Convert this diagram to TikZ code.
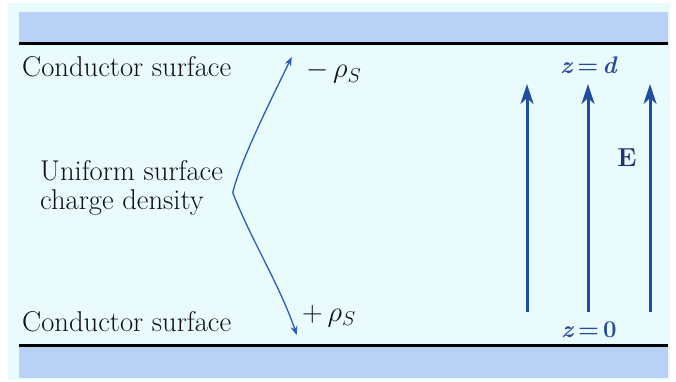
\documentclass[tikz,border=0pt]{standalone}
\usepackage{fix-cm}
\usepackage{fontspec}
\usetikzlibrary{arrows.meta}
\definecolor{bgc}{HTML}{E9FBFD}
\definecolor{bandc}{HTML}{B9D1F5}
\definecolor{fieldc}{HTML}{1F4E9C}
\definecolor{curvec}{HTML}{2C5FB2}
\definecolor{zlabc}{HTML}{2B4C96}
\definecolor{ecol}{HTML}{1E3470}
\definecolor{txtc}{HTML}{111111}
\begin{document}
\begin{tikzpicture}[x=1pt,y=-1pt,
  lbl/.style={inner sep=0pt, text=txtc, font=\fontsize{28.6}{28.5}\selectfont\addfontfeature{FakeBold=1.2}},
  zlab/.style={inner sep=0pt, text=zlabc, font=\fontsize{24}{26}\selectfont\bfseries},
  fieldarrow/.style={draw=fieldc, line width=3pt, -{Stealth[length=20pt,width=13pt,inset=6pt]}},
  chargearrow/.style={draw=curvec, line width=1.3pt, -{Stealth[length=9pt,width=7pt]}},
  plate/.style={fill=bandc},
  surf/.style={line width=2.5pt, black}]
\useasboundingbox (0,0) rectangle (676,382);
\fill[white] (0,0) rectangle (676,382);
\fill[bgc] (8,3) rectangle (670,380);
% plates
\fill[plate] (19,12) rectangle (668,43);
\draw[surf] (19,43.5) -- (668,43.5);
\fill[plate] (19,346) rectangle (668,378);
\draw[surf] (19,345.5) -- (668,345.5);
% labels
\node[lbl, anchor=base west] (cs1) at (22,77) {Conductor surface};
\node[lbl, anchor=base west] (cs2) at (22,331) {Conductor surface};
\node[lbl, anchor=west, align=left] (ucd) at (40,188) {Uniform surface\\charge density};
\node[lbl, anchor=base west] (rm) at (306,78) {$-\,\rho_S$};
\node[lbl, anchor=base west] (rp) at (302,321) {$+\,\rho_S$};
% charge density pointer
\coordinate (v) at (232.7,192.7);
\coordinate (tm) at (291.7,57);
\coordinate (tp) at (296.7,335);
\draw[chargearrow] (v) .. controls (240.8,158.8) and (275.5,90.9) .. (tm);
\draw[chargearrow] (v) .. controls (251.5,240.6) and (280.3,286.1) .. (tp);
% field arrows
\coordinate (a1b) at (527,312); \coordinate (a1t) at (527,84);
\coordinate (a2b) at (588,312); \coordinate (a2t) at (588,84);
\coordinate (a3b) at (650,312); \coordinate (a3t) at (650,84);
\draw[fieldarrow] (a1b) -- (a1t);
\draw[fieldarrow] (a2b) -- (a2t);
\draw[fieldarrow] (a3b) -- (a3t);
\node[zlab, anchor=base] (zd) at (589,74) {\textit{z}\,=\,\textit{d}};
\node[zlab, anchor=base] (z0) at (589,337) {\textit{z}\,=\,0};
\node[inner sep=0pt, text=ecol, font=\fontsize{26}{26}\selectfont\bfseries] (E) at (627,158) {E};
\end{tikzpicture}
\end{document}
